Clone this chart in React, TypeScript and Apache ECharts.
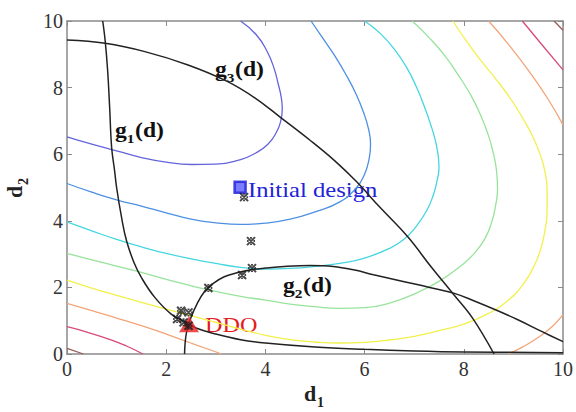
import React, { useEffect, useRef } from "react";
import * as echarts from "echarts";

// ---- data ----
const axisTicks = [0, 2, 4, 6, 8, 10];

// objective contours (innermost -> outermost)
const level1 = [[0, 6.52], [0.5, 6.3], [1, 6.1], [1.5, 5.9], [2, 5.76], [2.5, 5.69], [3, 5.7], [3.5, 5.84], [3.8, 6.03], [4.05, 6.3], [4.22, 6.65], [4.31, 7.0], [4.34, 7.35], [4.32, 7.7], [4.26, 8.1], [4.17, 8.6], [4.03, 9.1], [3.82, 9.58], [3.5, 10]];
const level2 = [[0, 5.12], [0.5, 4.86], [1, 4.63], [1.5, 4.44], [2, 4.24], [2.5, 4.05], [3, 3.94], [3.5, 3.89], [4, 3.93], [4.5, 4.05], [5, 4.27], [5.5, 4.57], [5.84, 5.0], [6.0, 5.4], [6.09, 5.85], [6.12, 6.3], [6.08, 6.75], [5.98, 7.25], [5.83, 7.8], [5.64, 8.35], [5.4, 8.95], [5.15, 9.5], [4.92, 10]];
const level3 = [[0, 3.97], [0.5, 3.7], [1, 3.44], [1.5, 3.22], [2, 3.02], [2.5, 2.86], [3, 2.72], [3.5, 2.6], [4, 2.55], [4.5, 2.57], [5, 2.63], [5.5, 2.72], [6, 2.88], [6.5, 3.17], [6.8, 3.45], [7.05, 3.85], [7.25, 4.3], [7.38, 4.75], [7.46, 5.2], [7.5, 5.6], [7.48, 6.0], [7.42, 6.45], [7.33, 6.9], [7.2, 7.45], [7.05, 8.0], [6.85, 8.6], [6.6, 9.15], [6.32, 9.62], [6.0, 10]];
const level4 = [[0, 3.02], [0.5, 2.83], [1, 2.64], [1.5, 2.45], [2, 2.24], [2.5, 2.05], [3, 1.88], [3.5, 1.73], [4, 1.62], [4.5, 1.5], [5, 1.42], [5.5, 1.37], [6, 1.39], [6.5, 1.53], [7, 1.8], [7.5, 2.18], [7.9, 2.6], [8.2, 3.0], [8.42, 3.45], [8.56, 3.95], [8.64, 4.45], [8.68, 4.95], [8.66, 5.5], [8.6, 6.0], [8.5, 6.55], [8.36, 7.1], [8.15, 7.75], [7.9, 8.35], [7.62, 8.95], [7.3, 9.5], [6.96, 10]];
const level5 = [[0, 2.22], [0.5, 1.98], [1, 1.76], [1.5, 1.55], [2, 1.35], [2.5, 1.15], [3, 0.95], [3.5, 0.75], [4, 0.56], [4.5, 0.43], [5, 0.36], [5.5, 0.33], [6, 0.35], [6.5, 0.42], [7, 0.53], [7.5, 0.7], [8, 0.9], [8.5, 1.22], [8.9, 1.62], [9.2, 2.1], [9.42, 2.65], [9.56, 3.2], [9.64, 3.75], [9.68, 4.3], [9.68, 4.9], [9.64, 5.45], [9.55, 5.95], [9.4, 6.5], [9.2, 7.05], [8.95, 7.65], [8.65, 8.25], [8.35, 8.8], [8.05, 9.4], [7.78, 10]];
const level6a = [[0, 1.52], [0.5, 1.3], [1, 1.08], [1.5, 0.85], [2, 0.6], [2.5, 0.33], [3.12, 0]];
const level6b = [[8.9, 0], [9.2, 0.22], [9.52, 0.52], [9.8, 0.85], [10, 1.18]];
const level6c = [[8.5, 10], [8.9, 9.3], [9.32, 8.48], [9.7, 7.65], [10, 6.88]];
const level7a = [[0, 0.82], [0.4, 0.66], [0.9, 0.42], [1.2, 0.24], [1.53, 0]];
const level7b = [[9.18, 10], [9.58, 9.28], [10, 8.53]];
const level8a = [[0, 0.17], [0.33, 0]];
const level8b = [[9.82, 10], [10, 9.72]];

// constraint boundaries
const g1 = [[0.72, 10], [0.77, 9.4], [0.82, 8.5], [0.86, 7.4], [0.9, 6.2], [0.96, 5.5], [1.0, 5.0], [1.1, 4.1], [1.2, 3.4], [1.35, 2.75], [1.51, 2.27], [1.77, 1.7], [2.1, 1.2], [2.4, 0.95], [2.6, 0.78], [3, 0.6], [3.5, 0.43], [4, 0.33], [5, 0.21], [6, 0.14], [7, 0.09], [8, 0.06], [10, 0.04]];
const g2 = [[2.37, 0], [2.38, 0.3], [2.41, 0.65], [2.5, 1.1], [2.62, 1.5], [2.77, 1.87], [2.95, 2.12], [3.17, 2.32], [3.45, 2.45], [3.71, 2.53], [4.0, 2.58], [4.38, 2.63], [4.9, 2.66], [5.37, 2.63], [5.8, 2.52], [6.18, 2.38], [6.8, 2.17], [7.31, 2.0], [7.81, 1.82], [8.2, 1.6], [8.65, 1.32], [9.1, 1.02], [9.58, 0.67], [10, 0.37]];
const g3 = [[0, 9.43], [0.77, 9.33], [1.57, 9.08], [2.44, 8.68], [3.24, 8.18], [3.8, 7.68], [4.31, 7.1], [4.9, 6.42], [5.4, 5.8], [5.84, 5.17], [6.3, 4.42], [6.87, 3.52], [7.34, 2.62], [7.8, 1.78], [8.18, 1.07], [8.61, 0]];

// design iterates
const iterates = [[3.57, 4.71], [3.71, 3.39], [3.73, 2.58], [3.53, 2.37], [2.85, 1.98], [2.45, 1.25], [2.3, 1.3], [2.22, 1.05], [2.35, 0.95], [2.45, 0.85]];
const initialDesign = [[3.49, 5.01]];
const ddo = [[2.46, 0.89]];

const contourColors = ["#6464dc", "#4d90e2", "#45d6e0", "#98e39a", "#f2f04a", "#f2a57a", "#d84a78", "#9a5a5a"];

const SERIF = "Liberation Serif, Times New Roman, Times, serif";

function contour(data: number[][], color: string) {
  return {
    type: "line",
    data,
    smooth: 0.5,
    showSymbol: false,
    symbol: "none",
    silent: true,
    lineStyle: { color, width: 1.3 },
  };
}

function constraint(data: number[][]) {
  return {
    type: "line",
    data,
    smooth: 0.4,
    showSymbol: false,
    symbol: "none",
    silent: true,
    lineStyle: { color: "#222", width: 1.5 },
  };
}

function gLabel(x: number, y: number, sub: string) {
  const f = (s: number) => `bold ${s}px ${SERIF}`;
  return {
    type: "group",
    x,
    y,
    scaleX: 1.18,
    children: [
      { type: "text", x: 0, y: 0, style: { text: "g", font: f(20), fill: "#111", verticalAlign: "middle", align: "left" } },
      { type: "text", x: 10, y: 7, style: { text: sub, font: f(13), fill: "#111", verticalAlign: "middle", align: "left" } },
      { type: "text", x: 17, y: 0, style: { text: "(d)", font: f(20), fill: "#111", verticalAlign: "middle", align: "left" } },
    ],
  };
}

export default function App() {
  const ref = useRef<HTMLDivElement>(null);
  useEffect(() => {
    if (!ref.current) return;
    const chart = echarts.init(ref.current, undefined, { renderer: "svg" });
    const axisLine = { show: true, onZero: false, lineStyle: { color: "#8a8a8a", width: 1.5 } };
    const axisTick = { show: true, inside: true, length: 5, lineStyle: { color: "#8a8a8a", width: 1 } };
    const label = { fontSize: 20, fontFamily: SERIF, color: "#333" };
    const base = { type: "value", min: axisTicks[0], max: axisTicks[axisTicks.length - 1], interval: 2, splitLine: { show: false } };
    chart.setOption({
      animation: false,
      backgroundColor: "#fff",
      grid: { left: 67, right: 11, top: 21, bottom: 58 },
      xAxis: [
        { ...base, position: "bottom", axisLine, axisTick, axisLabel: { ...label, margin: 5 } },
        { ...base, position: "top", axisLine, axisTick, axisLabel: { show: false } },
      ],
      yAxis: [
        { ...base, position: "left", axisLine, axisTick, axisLabel: { ...label, margin: 4 } },
        { ...base, position: "right", axisLine, axisTick, axisLabel: { show: false } },
      ],
      series: [
        contour(level1, contourColors[0]),
        contour(level2, contourColors[1]),
        contour(level3, contourColors[2]),
        contour(level4, contourColors[3]),
        contour(level5, contourColors[4]),
        contour(level6a, contourColors[5]),
        contour(level6b, contourColors[5]),
        contour(level6c, contourColors[5]),
        contour(level7a, contourColors[6]),
        contour(level7b, contourColors[6]),
        contour(level8a, contourColors[7]),
        contour(level8b, contourColors[7]),
        constraint(g1),
        constraint(g2),
        constraint(g3),
        {
          type: "scatter",
          data: initialDesign,
          symbol: "rect",
          symbolSize: 11,
          itemStyle: { color: "#5a5aff", borderColor: "#1c1cdc", borderWidth: 2.5 },
          z: 5,
        },
        {
          type: "scatter",
          data: ddo,
          symbol: "triangle",
          symbolSize: [20, 16],
          itemStyle: { color: "#e82020" },
          z: 5,
        },
        {
          type: "scatter",
          data: iterates,
          symbol: "path://M0,0L10,10M10,0L0,10M5,0L5,2M5,8L5,10M0,5L2,5M8,5L10,5",
          symbolSize: 8,
          itemStyle: { color: "none", borderColor: "#1a1a1a", borderWidth: 2 },
          z: 6,
        },
      ],
      graphic: [
        gLabel(215, 70, "3"),
        gLabel(115, 131, "1"),
        gLabel(283, 286, "2"),
        {
          type: "text",
          x: 248,
          y: 189,
          scaleX: 1.12,
          style: { text: "Initial design", font: `22px ${SERIF}`, fill: "#2222d6", verticalAlign: "middle", align: "left" },
        },
        {
          type: "text",
          x: 205,
          y: 324,
          scaleX: 1.1,
          style: { text: "DDO", font: `22px ${SERIF}`, fill: "#e41c1c", verticalAlign: "middle", align: "left" },
        },
        {
          type: "group",
          x: 304,
          y: 393,
          children: [
            { type: "text", x: 0, y: 0, style: { text: "d", font: `bold 22px ${SERIF}`, fill: "#222", verticalAlign: "middle", align: "left" } },
            { type: "text", x: 13, y: 9, style: { text: "1", font: `bold 14px ${SERIF}`, fill: "#222", verticalAlign: "middle", align: "left" } },
          ],
        },
        {
          type: "group",
          x: 14,
          y: 198,
          rotation: Math.PI / 2,
          children: [
            { type: "text", x: 0, y: 0, style: { text: "d", font: `bold 22px ${SERIF}`, fill: "#222", verticalAlign: "middle", align: "left" } },
            { type: "text", x: 13, y: 9, style: { text: "2", font: `bold 14px ${SERIF}`, fill: "#222", verticalAlign: "middle", align: "left" } },
          ],
        },
      ],
    });
    return () => chart.dispose();
  }, []);
  return <div ref={ref} style={{ position: "absolute", left: 0, top: 0, width: 576, height: 412 }} />;
}
